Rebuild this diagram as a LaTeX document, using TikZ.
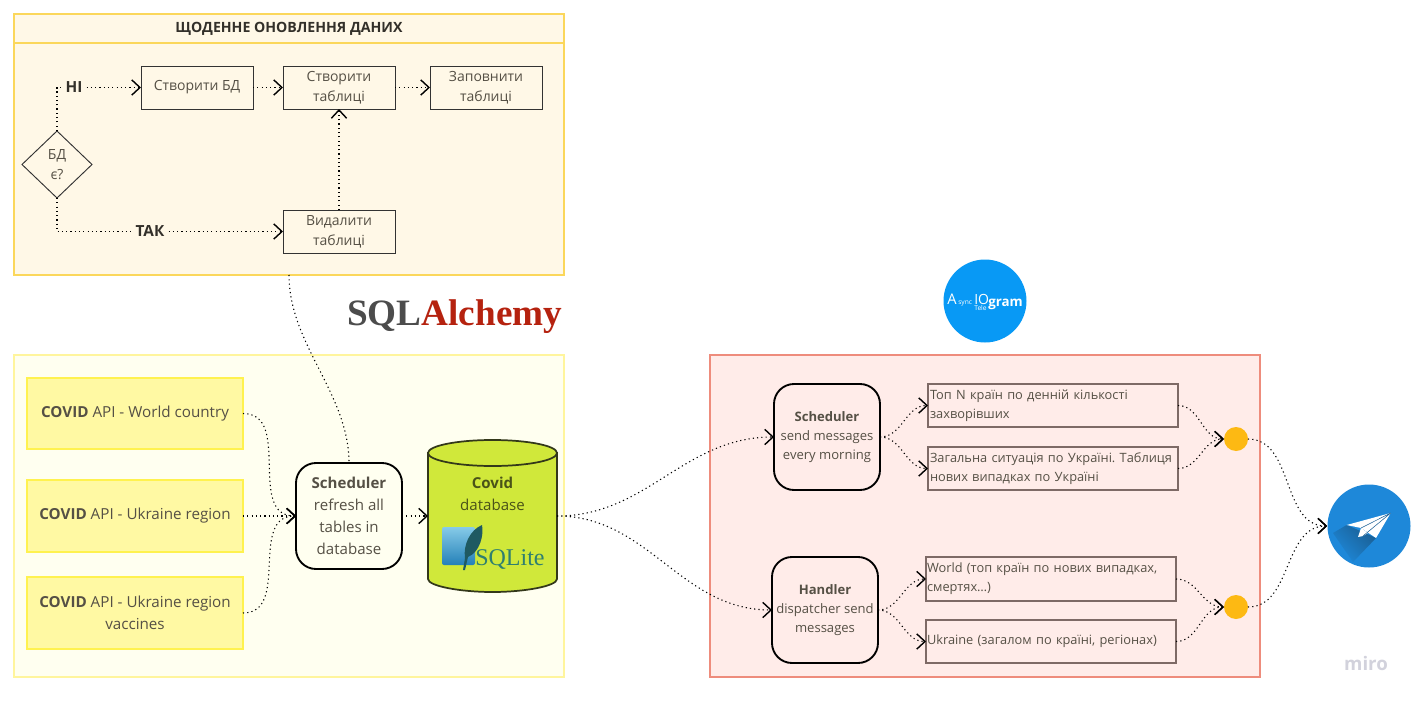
\documentclass[tikz,border=0pt]{standalone}
\usepackage{fontspec}
\setmainfont{Open Sans}
\newfontfamily\serifb{Liberation Serif}
\usetikzlibrary{arrows.meta,shapes.geometric,calc}
\def\px{0.75pt}
\definecolor{txt}{HTML}{555045}
\definecolor{txtb}{HTML}{33302A}
\definecolor{cpaborder}{HTML}{FBD75B}
\definecolor{cpafill}{HTML}{FFF8E7}
\definecolor{cpbborder}{HTML}{FFF59D}
\definecolor{cpbfill}{HTML}{FFFFF0}
\definecolor{cpcborder}{HTML}{EE8C7C}
\definecolor{cpcfill}{HTML}{FFECE9}
\definecolor{csrcborder}{HTML}{FFF24F}
\definecolor{csrcfill}{HTML}{FFF9A3}
\definecolor{cmsgborder}{HTML}{7E6A66}
\definecolor{cdot}{HTML}{FDB913}
\definecolor{cdb}{HTML}{D0E83A}
\definecolor{cdbline}{HTML}{33381A}
\definecolor{cdbtxt}{HTML}{4A5318}
\definecolor{csqlA}{HTML}{2480B8}
\definecolor{csqlB}{HTML}{86CBE8}
\definecolor{cquill}{HTML}{1F5A62}
\definecolor{csqlt}{HTML}{2F7F70}
\definecolor{cred}{HTML}{B5220F}
\definecolor{caio}{HTML}{0899F5}
\definecolor{ctg}{HTML}{1E88D9}
\definecolor{ctgd}{HTML}{1A5F94}
\definecolor{cmiro}{HTML}{D2D2DC}
\tikzset{
  sz/.style 2 args={minimum width=#1*\px,minimum height=#2*\px,inner sep=0pt,outer sep=0pt},
  panelA/.style={draw=cpaborder,fill=cpafill,line width=.9pt},
  flow/.style={draw=black,line width=.8pt,dash pattern=on .9pt off 2.3pt,
    -{Straight Barb[length=6.2pt,width=11.5pt,line width=1.05pt]}},
  plain/.style={draw=black,line width=.8pt,dash pattern=on .9pt off 2.3pt},
  stepbox/.style={draw=black!80,fill=cpafill,line width=.7pt,align=center,text=txt,font=\fontsize{10.5}{15}\selectfont},
  srcbox/.style={draw=csrcborder,fill=csrcfill,line width=1.1pt,align=center,text=txt,font=\fontsize{11.4}{16.5}\selectfont},
  rbox/.style={draw=black,line width=1.4pt,rounded corners=15pt,align=center,text=txt},
  msgbox/.style={draw=cmsgborder,fill=cpcfill,line width=1pt,align=left,text=txt,font=\fontsize{9.6}{14.4}\selectfont},
  dot/.style={circle,fill=cdot,minimum size=24*\px,inner sep=0pt,outer sep=0pt},
  lab/.style={font=\bfseries\fontsize{11.5}{12}\selectfont,text=txtb,inner sep=3pt},
}
\begin{document}
\frenchspacing
\begin{tikzpicture}[x=\px,y=-\px]
\useasboundingbox (0,0) rectangle (1421,703);
\fill[white] (0,0) rectangle (1421,703);

% panels
\node[panelA,sz={550}{261}] (pa) at (289,144.5) {};
\node[panelA,sz={550}{29},line width=1.2pt,font=\bfseries\fontsize{10.6}{12}\selectfont,text=txtb] (pah) at (289,28.5) {ЩОДЕННЕ ОНОВЛЕННЯ ДАНИХ};
\node[draw=cpbborder,fill=cpbfill,line width=.9pt,sz={550}{322}] (pb) at (289,516) {};
\node[draw=cpcborder,fill=cpcfill,line width=1.1pt,sz={550}{322}] (pc) at (985,516) {};

% top flow
\node[draw=black!80,fill=cpafill,line width=.7pt,diamond,aspect=1.04,sz={70}{67},align=center,text=txt,font=\fontsize{10.5}{15}\selectfont] (q) at (57,164.5) {БД\\є?};
\node[stepbox,sz={112}{43}] (s1) at (197,87.5) {Створити БД};
\node[stepbox,sz={112}{43}] (s2) at (339,87.5) {Створити\\таблиці};
\node[stepbox,sz={112}{43}] (s3) at (486,87.5) {Заповнити\\таблиці};
\node[stepbox,sz={112}{43}] (s4) at (339,231.5) {Видалити\\таблиці};
\node[lab] (hi) at (74,87.5) {НІ};
\node[lab] (tak) at (150,231.5) {ТАК};
\draw[plain] (q.north) |- (hi.west);
\draw[flow] (hi.east) -- (s1.west);
\draw[flow] (s1.east) -- (s2.west);
\draw[flow] (s2.east) -- (s3.west);
\draw[plain] (q.south) |- (tak.west);
\draw[flow] (tak.east) -- (s4.west);
\draw[flow] (s4.north) -- (s2.south);

% sources
\node[srcbox,sz={216}{71}] (c1) at (135,413.5) {\textbf{COVID} API - World country};
\node[srcbox,sz={216}{72}] (c2) at (135,516) {\textbf{COVID} API - Ukraine region};
\node[srcbox,sz={216}{72}] (c3) at (135,613) {\textbf{COVID} API - Ukraine region\\vaccines};
\node[rbox,fill=cpbfill,sz={106}{106},font=\fontsize{11.3}{16.5}\selectfont] (sch) at (349,516) {\textbf{Scheduler}\\refresh all\\tables in\\database};

% database
\node[sz={129}{152}] (db) at (492.5,516) {};
\draw[fill=cdb,draw=cdbline,line width=1.3pt]
  (428,453) -- (428,579) .. controls (428,586) and (460,592) .. (492.5,592) .. controls (525,592) and (557,586) .. (557,579) -- (557,453) -- cycle;
\draw[fill=cdb,draw=cdbline,line width=1.3pt] (492.5,453) ellipse[x radius=64.5,y radius=13];
\node[align=center,text=cdbtxt,font=\fontsize{11.3}{16.5}\selectfont,inner sep=0pt] (dbt) at (492.5,494) {\textbf{Covid}\\database};
% SQLite logo
\shade[top color=csqlB,bottom color=csqlA,rounded corners=1.5pt] (442,527) rectangle (475,565);
\fill[cquill] (482,525) .. controls (470,530) and (463,545) .. (465,558) -- (463,570) -- (465,570) -- (468,557) .. controls (480,552) and (484,535) .. (482,525) -- cycle;
\node[inner sep=0pt,text=csqlt,anchor=base west,font=\serifb\fontsize{18}{20}\selectfont] (sl) at (475,565) {SQLite};

\draw[flow] (c1.east) to[out=0,in=180,looseness=1.1] (sch.west);
\draw[flow] (c2.east) -- (sch.west);
\draw[flow] (c3.east) to[out=0,in=180,looseness=1.1] (sch.west);
\draw[plain] (pa.south) to[out=-90,in=90,looseness=.9] (sch.north);
\draw[flow] (sch.east) -- (db.west);

% SQLAlchemy
\node[inner sep=0pt,anchor=base west,font=\serifb\bfseries\fontsize{27.9}{32}\selectfont] (sa) at (347,325) {\textcolor{black!70}{SQL}\textcolor{cred}{Alchemy}};

% aiogram
\node[circle,fill=caio,minimum size=83*\px,inner sep=0pt] (aio) at (985,301) {};
\begin{scope}[every node/.style={inner sep=0pt,text=white,anchor=base west}]
\node[font=\fontsize{11}{10}\selectfont] (a1) at (947,304) {A};
\node[font=\fontsize{5}{5}\selectfont] (a2) at (958,304) {sync};
\node[font=\fontsize{10.5}{10}\selectfont] (a3) at (974,304) {IO};
\node[font=\fontsize{5}{5}\selectfont] (a4) at (974,310) {Tele};
\node[font=\bfseries\fontsize{10}{10}\selectfont] (a5) at (988,306) {gram};
\end{scope}

% messages
\node[rbox,fill=cpcfill,sz={106}{106},font=\fontsize{9.8}{14.4}\selectfont] (m1) at (827,437) {\textbf{Scheduler}\\send messages\\every morning};
\node[rbox,fill=cpcfill,sz={106}{106},font=\fontsize{9.8}{14.4}\selectfont] (m2) at (825,610) {\textbf{Handler}\\dispatcher send\\messages};
\node[msgbox,sz={250}{43},text width=246*\px] (t1) at (1053,405.5) {Топ N країн по денній кількості\\захворівших};
\node[msgbox,sz={250}{43},text width=246*\px] (t2) at (1053,468.5) {Загальна ситуація по Україні. Таблиця\\нових випадках по Україні};
\node[msgbox,sz={250}{44},text width=248*\px] (t3) at (1051,579) {World (топ країн по нових випадках,\\смертях…)};
\node[msgbox,sz={250}{43},text width=248*\px] (t4) at (1051,641.5) {Ukraine (загалом по країні, регіонах)};
\node[dot] (d1) at (1236,439) {};
\node[dot] (d2) at (1236,607) {};

% telegram
\node[circle,fill=ctg,minimum size=83*\px,inner sep=0pt] (tg) at (1369,526) {};
\begin{scope}
\clip (1369,526) circle[radius=41.5];
\shade[left color=ctg,right color=ctgd,shading angle=135] (1346.7,525) -- (1376,538) -- (1353,562) -- (1333,533) -- cycle;
\end{scope}
\fill[white] (1390.7,513) -- (1346.7,525) -- (1361,528) -- (1376,538) -- cycle;
\fill[white] (1361,528) -- (1358,537) -- (1363,536) -- (1368,533) -- cycle;
\draw[ctgd,line width=.4pt] (1390.7,513) -- (1361,528) (1390.7,513) -- (1363,536);

\draw[flow] (db.east) to[out=0,in=180] (m1.west);
\draw[flow] (db.east) to[out=0,in=180] (m2.west);
\draw[flow] (m1.east) to[out=0,in=180] (t1.west);
\draw[flow] (m1.east) to[out=0,in=180] (t2.west);
\draw[flow] (m2.east) to[out=0,in=180] (t3.west);
\draw[flow] (m2.east) to[out=0,in=180] (t4.west);
\draw[flow] (t1.east) to[out=0,in=180] (d1.west);
\draw[flow] (t2.east) to[out=0,in=180] (d1.west);
\draw[flow] (t3.east) to[out=0,in=180] (d2.west);
\draw[flow] (t4.east) to[out=0,in=180] (d2.west);
\draw[flow] (d1.east) to[out=0,in=180] (tg.west);
\draw[flow] (d2.east) to[out=0,in=180] (tg.west);

\node[text=cmiro,inner sep=0pt,font=\bfseries\fontsize{14}{14}\selectfont] (mi) at (1366,663) {miro};
\end{tikzpicture}
\end{document}
